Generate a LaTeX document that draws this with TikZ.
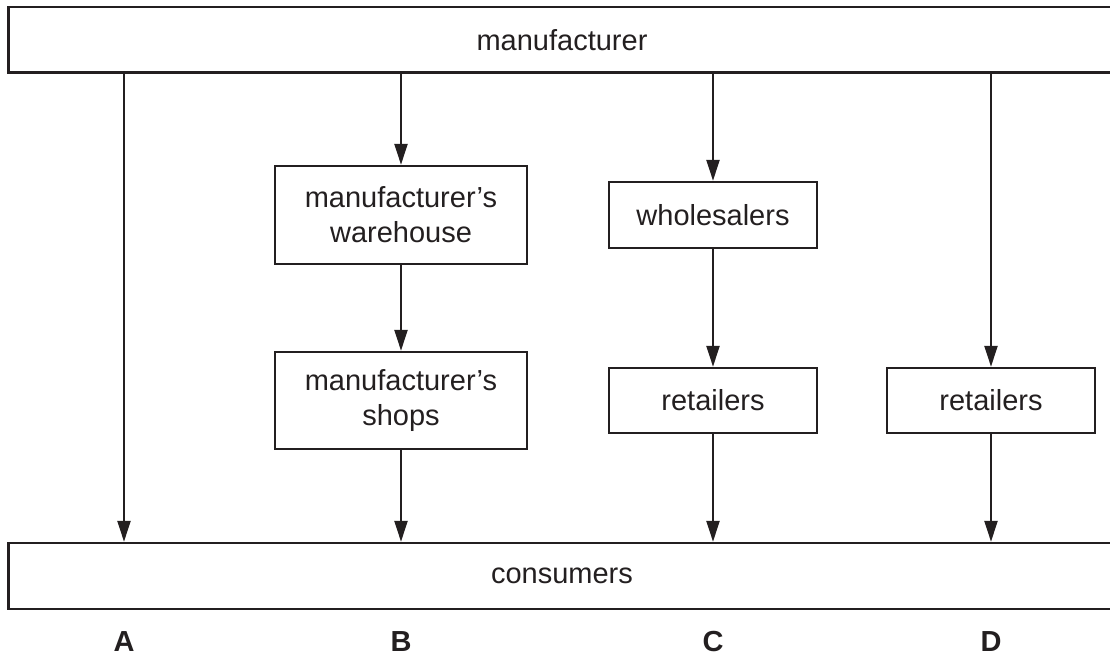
\documentclass[tikz,border=0pt]{standalone}
\usepackage{fontspec}
\setmainfont{Liberation Sans}
\usetikzlibrary{arrows.meta,positioning}
\definecolor{ink}{RGB}{35,31,32}
\tikzstyle{party}=[
	rectangle,
	draw=ink,
	line width=1.2pt,
	fill=white,
	inner sep=0pt,
	align=center,
	text=ink,
	font=\fontsize{14.5}{17.5}\selectfont
]
\tikzstyle{flow}=[
	-{Triangle[length=10.5pt,width=6.5pt]},
	line width=1.2pt,
	draw=ink
]
\tikzstyle{route}=[
	anchor=base,
	inner sep=0pt,
	text=ink,
	font=\bfseries\fontsize{14.5}{17.5}\selectfont
]

\begin{document}
\begin{tikzpicture}[x=0.5pt,y=-0.5pt]
\useasboundingbox (0,0) rectangle (1110,657);
\node [party, minimum width=553.5pt, minimum height=32.7pt] (manufacturer) at (562,40) {manufacturer};
\node [party, minimum width=553.5pt, minimum height=33pt] (consumers) at (562,576) {consumers};
\node [party, minimum width=126pt, minimum height=49pt] (warehouse) at (401,215) {manufacturer’s\\warehouse};
\node [party, minimum width=126pt, minimum height=48.5pt] (shops) at (401,400.5) {manufacturer’s\\shops};
\node [party, minimum width=104pt, minimum height=33pt] (wholesalers) at (713,215) {wholesalers};
\node [party, minimum width=104pt, minimum height=32.5pt] (retailersC) at (713,400.5) {retailers};
\node [party, minimum width=104pt, minimum height=32.5pt] (retailersD) at (991,400.5) {retailers};
\node [route] (routeA) at (124,652) {A};
\node [route] (routeB) at (401,652) {B};
\node [route] (routeC) at (713,652) {C};
\node [route] (routeD) at (991,652) {D};
% A: straight to consumers
\draw [flow] (manufacturer.south -| routeA) -- (consumers.north -| routeA);
% B: own warehouse and shops
\draw [flow] (manufacturer.south -| warehouse) -- (warehouse);
\draw [flow] (warehouse) -- (shops);
\draw [flow] (shops) -- (consumers.north -| shops);
% C: wholesalers then retailers
\draw [flow] (manufacturer.south -| wholesalers) -- (wholesalers);
\draw [flow] (wholesalers) -- (retailersC);
\draw [flow] (retailersC) -- (consumers.north -| retailersC);
% D: retailers only
\draw [flow] (manufacturer.south -| retailersD) -- (retailersD);
\draw [flow] (retailersD) -- (consumers.north -| retailersD);
\end{tikzpicture}
\end{document}
